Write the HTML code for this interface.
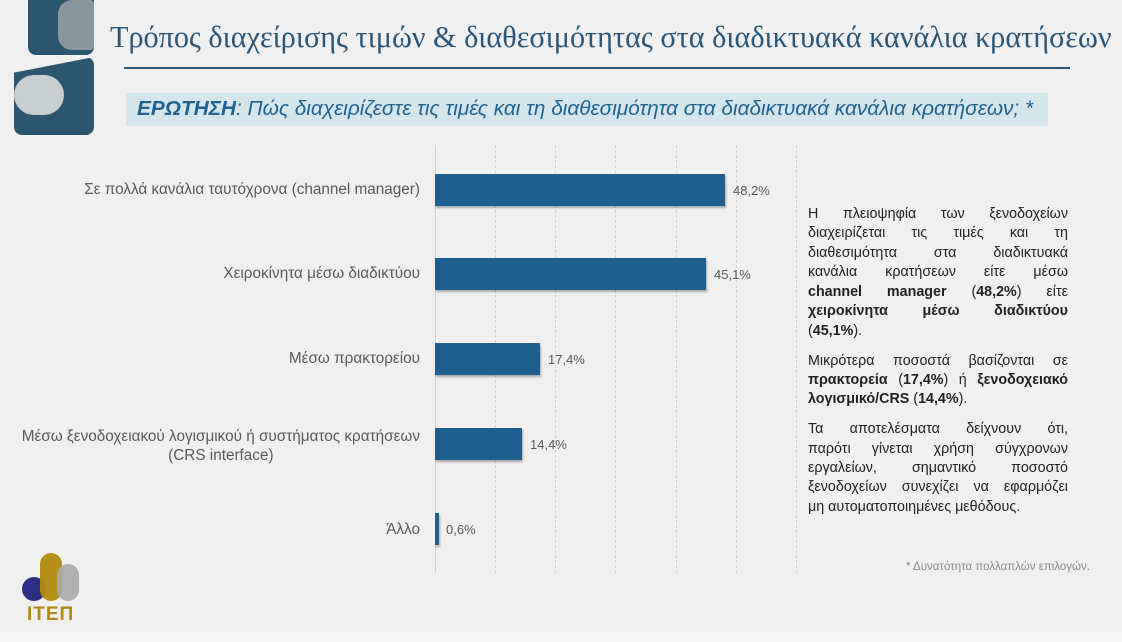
<!DOCTYPE html>
<html><head><meta charset="utf-8"><style>
*{margin:0;padding:0;box-sizing:border-box}
body{width:1122px;height:642px;background:#f0f0f0;font-family:"Liberation Sans","DejaVu Sans",sans-serif;position:relative;overflow:hidden}
.abs{position:absolute}
.lbl{position:absolute;right:702px;color:#595959;font-size:15.3px;text-align:right;white-space:nowrap}
.bar{position:absolute;left:435px;height:32px;background:#1f5f8d;box-shadow:1px 2px 2px rgba(0,0,0,0.3)}
.val{position:absolute;color:#595959;font-size:13px}
.g{position:absolute;top:145px;height:428px;border-left:1px dashed #d2d2d2;width:0}
.tl{position:absolute;left:808px;width:260px;font-size:14.3px;color:#222;white-space:nowrap;text-align:justify;text-align-last:justify;line-height:19px;height:19px}
.tl.l{text-align-last:left}
b{font-weight:bold}
</style></head><body>
<div class="abs" style="left:28px;top:0;width:66px;height:55px;background:#2b5670;border-radius:0 0 8px 8px"></div>
<div class="abs" style="left:58px;top:0;width:36px;height:50px;background:#8a969e;border-radius:14px 4px 4px 14px"></div>
<div class="abs" style="left:14px;top:57px;width:80px;height:78px;background:#2b5670;border-radius:8px;clip-path:polygon(0 20%,100% 0,100% 100%,0 100%)"></div>
<div class="abs" style="left:14px;top:75px;width:50px;height:40px;background:#c8cdd0;border-radius:20px"></div>
<div class="abs" style="left:110px;top:20px;font-size:30.2px;color:#2c5677;white-space:nowrap;font-family:'Liberation Serif','DejaVu Serif',serif">Τρόπος διαχείρισης τιμών &amp; διαθεσιμότητας στα διαδικτυακά κανάλια κρατήσεων</div>
<div class="abs" style="left:124px;top:67px;width:946px;height:2px;background:#2c5677"></div>
<div class="abs" style="left:126px;top:93px;width:922px;height:33px;background:#d5e5ec"></div>
<div class="abs" style="left:137px;top:97px;font-size:20.8px;color:#1f6391;font-style:italic;white-space:nowrap"><b>ΕΡΩΤΗΣΗ</b>: Πώς διαχειρίζεστε τις τιμές και τη διαθεσιμότητα στα διαδικτυακά κανάλια κρατήσεων; *</div>

<div class="g" style="left:435px;border-left:1px solid #d0d0d0"></div>
<div class="g" style="left:495px"></div><div class="g" style="left:555px"></div><div class="g" style="left:615px"></div><div class="g" style="left:676px"></div><div class="g" style="left:736px"></div><div class="g" style="left:796px"></div>

<div class="lbl" style="top:181px">Σε πολλά κανάλια ταυτόχρονα (channel manager)</div>
<div class="lbl" style="top:265px">Χειροκίνητα μέσω διαδικτύου</div>
<div class="lbl" style="top:350px">Μέσω πρακτορείου</div>
<div class="lbl" style="top:427px;line-height:19px;text-align:center">Μέσω ξενοδοχειακού λογισμικού ή συστήματος κρατήσεων<br>(CRS interface)</div>
<div class="lbl" style="top:521px">Άλλο</div>

<div class="bar" style="top:174px;width:290px"></div>
<div class="bar" style="top:258px;width:271px"></div>
<div class="bar" style="top:343px;width:105px"></div>
<div class="bar" style="top:428px;width:87px"></div>
<div class="bar" style="top:513px;width:4px"></div>
<div class="val" style="left:733px;top:183px">48,2%</div>
<div class="val" style="left:714px;top:267px">45,1%</div>
<div class="val" style="left:548px;top:352px">17,4%</div>
<div class="val" style="left:530px;top:437px">14,4%</div>
<div class="val" style="left:446px;top:522px">0,6%</div>

<div class="tl" style="top:205px">Η πλειοψηφία των ξενοδοχείων</div>
<div class="tl" style="top:224px">διαχειρίζεται τις τιμές και τη</div>
<div class="tl" style="top:244px">διαθεσιμότητα στα διαδικτυακά</div>
<div class="tl" style="top:263px">κανάλια κρατήσεων είτε μέσω</div>
<div class="tl" style="top:283px"><b>channel manager</b> (<b>48,2%</b>) είτε</div>
<div class="tl" style="top:302px"><b>χειροκίνητα μέσω διαδικτύου</b></div>
<div class="tl l" style="top:322px">(<b>45,1%</b>).</div>
<div class="tl" style="top:352px">Μικρότερα ποσοστά βασίζονται σε</div>
<div class="tl" style="top:371px"><b>πρακτορεία</b> (<b>17,4%</b>) ή <b>ξενοδοχειακό</b></div>
<div class="tl l" style="top:390px"><b>λογισμικό/CRS</b> (<b>14,4%</b>).</div>
<div class="tl" style="top:420px">Τα αποτελέσματα δείχνουν ότι,</div>
<div class="tl" style="top:440px">παρότι γίνεται χρήση σύγχρονων</div>
<div class="tl" style="top:459px">εργαλείων, σημαντικό ποσοστό</div>
<div class="tl" style="top:478px">ξενοδοχείων συνεχίζει να εφαρμόζει</div>
<div class="tl l" style="top:498px">μη αυτοματοποιημένες μεθόδους.</div>

<div class="abs" style="left:906px;top:561px;font-size:11.5px;color:#8a8a8a;white-space:nowrap">* Δυνατότητα πολλαπλών επιλογών.</div>

<div class="abs" style="left:22px;top:577px;width:24px;height:24px;border-radius:12px;background:#2e2e85"></div>
<div class="abs" style="left:40px;top:553px;width:22px;height:48px;border-radius:11px;background:#b38a0e;opacity:0.95"></div>
<div class="abs" style="left:57px;top:564px;width:22px;height:37px;border-radius:11px;background:#a8a8aa;opacity:0.9"></div>
<div class="abs" style="left:27px;top:604px;font-size:19px;font-weight:bold;color:#b38a0e;letter-spacing:1px">ΙΤΕΠ</div>
<div class="abs" style="left:0;top:632px;width:1122px;height:10px;background:#f6f6f6"></div>
</body></html>
